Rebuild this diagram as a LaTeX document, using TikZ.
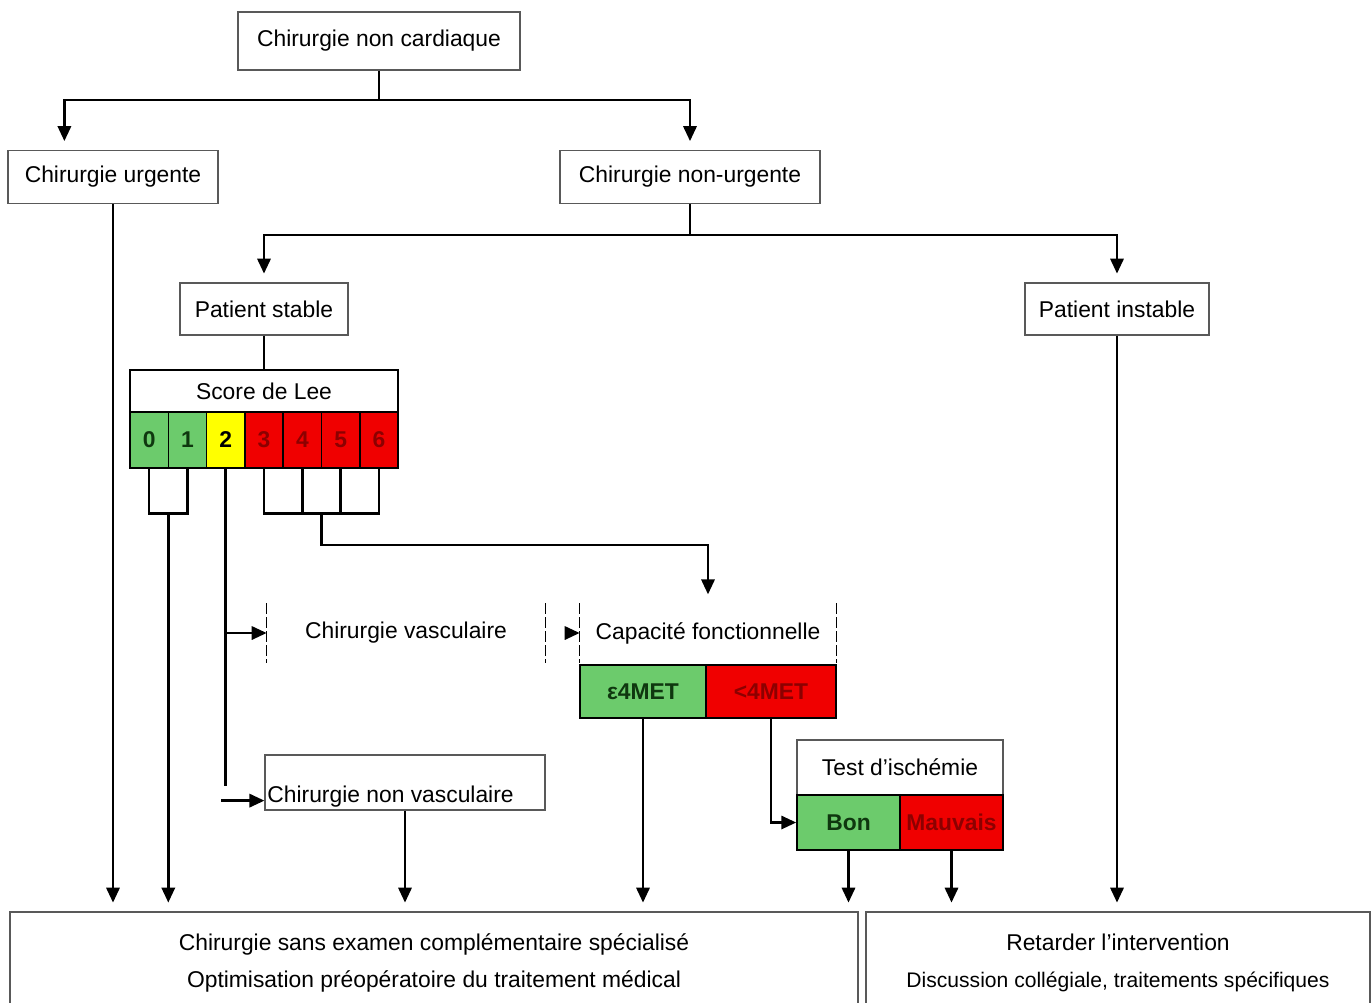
\documentclass[tikz,border=0pt]{standalone}
\usepackage{fontspec}
\setmainfont{Liberation Sans}
\usepackage{xcolor}
\usetikzlibrary{shapes, positioning, arrows.meta}
\definecolor{okgreen}{RGB}{108,203,108}
\definecolor{badred}{RGB}{240,0,0}
\definecolor{midyellow}{RGB}{255,255,0}
\definecolor{darkred}{RGB}{140,0,0}
\definecolor{darkgreen}{RGB}{15,55,15}

\begin{document}
\begin{tikzpicture}[x=0.02cm, y=-0.02cm,
    box/.style={draw=black!65, line width=0.7pt, inner sep=0pt, font=\fontsize{13}{15}\selectfont},
    head/.style={draw=black, line width=0.9pt, fill=white, inner sep=0pt, font=\fontsize{13}{15}\selectfont},
    cell/.style={draw=black, line width=0.9pt, inner sep=0pt, font=\fontsize{13}{15}\selectfont\bfseries},
    link/.style={line width=1.5pt},
    arr/.style={link, -{Triangle[length=8.5pt,width=7.5pt]}},
    gap/.style={arr, shorten >=5pt}]
        \useasboundingbox (0,0) rectangle (1372,1002);

        \node[box, minimum width=5.64cm, minimum height=1.16cm] (root) at (379,41) {Chirurgie non cardiaque};
        \node[box, minimum width=4.2cm, minimum height=1.06cm] (urg) at (113,177) {Chirurgie urgente};
        \node[box, minimum width=5.2cm, minimum height=1.06cm] (nurg) at (690,177) {Chirurgie non-urgente};
        \node[box, minimum width=3.36cm, minimum height=1.04cm] (stable) at (264,309) {Patient stable};
        \node[box, minimum width=3.68cm, minimum height=1.04cm] (instable) at (1117,309) {Patient instable};

        \node[head, minimum width=5.36cm, minimum height=0.84cm] (lee) at (264,391) {Score de Lee};
        \foreach \n/\col/\txt in {0/okgreen/darkgreen, 1/okgreen/darkgreen, 2/midyellow/black,
                                  3/badred/darkred, 4/badred/darkred, 5/badred/darkred, 6/badred/darkred}
            \node[cell, fill=\col, text=\txt, minimum width=0.766cm, minimum height=1.12cm] (c\n) at ({130+38.3*(\n+0.5)},440) {\n};

        \node[minimum width=5.56cm, minimum height=1.18cm, inner sep=0pt, font=\fontsize{13}{15}\selectfont] (vasc) at (406,633) {Chirurgie vasculaire};
        \node[minimum width=5.12cm, minimum height=1.18cm, inner sep=0pt, font=\fontsize{13}{15}\selectfont] (capa) at (708,633) {Capacité fonctionnelle};
        \draw[dash pattern=on 6pt off 2pt] (vasc.north west) -- (vasc.south west);
        \draw[dash pattern=on 6pt off 2pt] (vasc.north east) -- (vasc.south east);
        \draw[dash pattern=on 6pt off 2pt] (capa.north west) -- (capa.south west);
        \draw[dash pattern=on 6pt off 2pt] (capa.north east) -- (capa.south east);
        \node[cell, fill=okgreen, text=darkgreen, minimum width=2.52cm, minimum height=1.06cm] (ge4) at (643,691.5) {ε4MET};
        \node[cell, fill=badred, text=darkred, minimum width=2.6cm, minimum height=1.06cm] (lt4) at (771,691.5) {<4MET};

        \node[box, minimum width=4.12cm, minimum height=1.1cm] (test) at (900,767.5) {Test d'ischémie};
        \node[cell, fill=okgreen, text=darkgreen, minimum width=2.06cm, minimum height=1.1cm] (bon) at (848.5,822.5) {Bon};
        \node[cell, fill=badred, text=darkred, minimum width=2.06cm, minimum height=1.1cm] (mauv) at (951.5,822.5) {Mauvais};

        \node[box, minimum width=5.6cm, minimum height=1.1cm,
              label={[anchor=south west, inner sep=1.5pt, font=\fontsize{13}{15}\selectfont]south west:Chirurgie non vasculaire}] (nvasc) at (405,782.5) {};

        \node[box, align=center, minimum width=16.96cm, minimum height=2.04cm] (sans) at (434,963)
            {Chirurgie sans examen complémentaire spécialisé\\[6pt]Optimisation préopératoire du traitement médical};
        \node[box, align=center, minimum width=10.08cm, minimum height=2.04cm] (ret) at (1118,963)
            {Retarder l'intervention\\[6pt]\fontsize{12}{15}\selectfont Discussion collégiale, traitements spécifiques};

        \coordinate (j1) at (379,100);
        \coordinate (j2) at (690,235);
        \coordinate (j01) at (168.3,513);
        \coordinate (j36) at (321.5,513);

        \draw[link] (root.south) -- (j1);
        \draw[gap] (j1) -| ([xshift=1.14cm]urg.north west);
        \draw[gap] (j1) -| (nurg.north);
        \draw[link] (nurg.south) -- (j2);
        \draw[gap] (j2) -| (stable.north);
        \draw[gap] (j2) -| (instable.north);
        \draw[link] (stable.south) -- (lee.north);

        \draw[link] (c0.south) -- ++(0,45) -| (c1.south);
        \draw[link] (c3.south) -- ++(0,45) -| (c6.south);
        \draw[link] (c4.south) -- ++(0,45);
        \draw[link] (c5.south) -- ++(0,45);
        \draw[gap] (j36) -- ++(0,32) -| (capa.north);
        \draw[link] (c2.south) -- ++(0,317);
        \draw[arr] ([xshift=-0.86cm, yshift=0.2cm]nvasc.south west) -- ([yshift=0.2cm]nvasc.south west);
        \draw[arr] (c2.south |- vasc.west) -- (vasc.west);
        \draw[arr, shorten <=0.5cm] (vasc.east) -- (capa.west);
        \draw[arr] (lt4.south) |- (bon.west);

        \draw[gap] (urg.south) -- (urg.south |- sans.north);
        \draw[gap] (j01) -- (j01 |- sans.north);
        \draw[gap] (nvasc.south) -- (nvasc.south |- sans.north);
        \draw[gap] (ge4.south) -- (ge4.south |- sans.north);
        \draw[gap] (bon.south) -- (bon.south |- sans.north);
        \draw[gap] (mauv.south) -- (mauv.south |- ret.north);
        \draw[gap] (instable.south) -- (instable.south |- ret.north);
\end{tikzpicture}
\end{document}
